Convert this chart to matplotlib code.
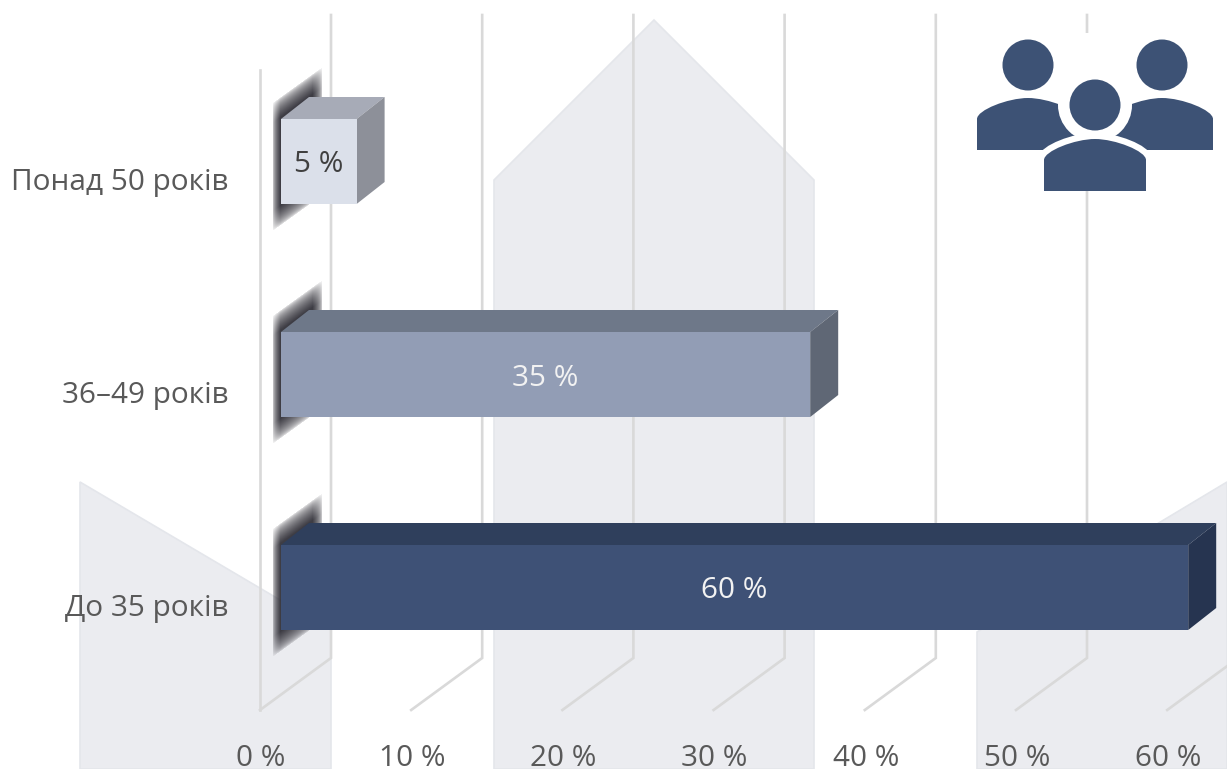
import numpy as np
import matplotlib
matplotlib.use('Agg')
import matplotlib.pyplot as plt
from matplotlib.patches import Polygon, Circle, PathPatch, Rectangle
from matplotlib.path import Path

plt.rcParams['font.family'] = ['Open Sans', 'DejaVu Sans']

# data
categories = ['До 35 років', '36–49 років', 'Понад 50 років']
values = [60, 35, 5]
value_labels = ['60 %', '35 %', '5 %']
axis_ticks = [0, 10, 20, 30, 40, 50, 60]
axis_labels = ['0 %', '10 %', '20 %', '30 %', '40 %', '50 %', '60 %']

# colours per bar: front, top, side, label
front_colors = ['#3e5176', '#929db5', '#dbe0ea']
top_colors = ['#2f3f5c', '#6e7889', '#a7abb7']
side_colors = ['#263450', '#5f6775', '#8d9099']
text_colors = ['#f2f2f2', '#f2f2f2', '#404040']

W, H = 1227, 769
PX_X = 15.12   # pixels for one percent
PX_Y = 213.0   # pixels between the bars
X0 = 281.0     # pixel of 0 % on the bar front
Y0 = 587.5     # pixel of the first bar centre
BAR_H = 85 / PX_Y
DX = 28 / PX_X  # depth of the 3d bars
DY = 22 / PX_Y
FONT = 21.4

fig = plt.figure(figsize=(W / 100, H / 100), dpi=100, facecolor='white')

# pale shapes behind the chart, in pixels
bg = fig.add_axes([0, 0, 1, 1], zorder=0)
bg.set_xlim(0, W)
bg.set_ylim(H, 0)
bg.axis('off')
shapes = [
    [(80, 482), (331, 630), (331, 769), (80, 769)],
    [(494, 180), (654, 20), (814, 180), (814, 769), (494, 769)],
    [(977, 632), (1227, 482), (1227, 769), (977, 769)],
]
for s in shapes:
    bg.add_patch(Polygon(s, closed=True, facecolor='#ebecf0', edgecolor='#e4e6eb', lw=1.2))

# chart
ax = fig.add_axes([0, 0, 1, 1], zorder=1)
ax.patch.set_alpha(0)
ax.axis('off')


def xp(px):
    return (px - X0) / PX_X


def yp(py):
    return (Y0 - py) / PX_Y


# grid, it has a foot going to the front
foot = 21 / PX_X
back = 50 / PX_X
for t in axis_ticks:
    ax.plot([t - foot, t + back, t + back],
            [yp(710), yp(658), yp(15)], color='#d9d9d9', lw=1.9, zorder=1,
            solid_joinstyle='miter')
ax.plot([-foot, -foot], [yp(710), yp(70)], color='#d9d9d9', lw=1.9, zorder=1)

# blurred shadow on the wall behind each bar
sx, sy = np.meshgrid(np.arange(262, 330), np.arange(0, 200))
mid = 100  # row of the bar centre
for i in range(len(values)):
    up = mid - 52 - (sx - 277) * 0.72
    low = mid + 56 - (sx - 277) * 0.72
    a = np.clip((sy - up) / 20 + 0.5, 0, 1) * np.clip((low - sy) / 20 + 0.5, 0, 1)
    a = a * np.clip((sx - 272) / 8, 0, 1) * np.clip((322 - sx) / 10, 0, 1)
    a = np.sqrt(a)
    rgba = np.zeros(a.shape + (4,))
    rgba[..., :3] = np.array([0x33, 0x32, 0x3a]) / 255
    rgba[..., 3] = a * 0.95
    ax.imshow(rgba, extent=[xp(262), xp(330), i + yp(Y0 + mid), i + yp(Y0 - mid)],
              origin='upper', aspect='auto', zorder=2, interpolation='bilinear')

# bars
y_pos = np.arange(len(values))
ax.barh(y_pos, values, height=BAR_H, color=front_colors, zorder=4)
for i, v in enumerate(values):
    top = i + BAR_H / 2
    bottom = i - BAR_H / 2
    ax.add_patch(Polygon([(0, top), (DX, top + DY), (v + DX, top + DY), (v, top)],
                         closed=True, facecolor=top_colors[i], edgecolor='none', zorder=3))
    ax.add_patch(Polygon([(v, top), (v + DX, top + DY), (v + DX, bottom + DY), (v, bottom)],
                         closed=True, facecolor=side_colors[i], edgecolor='none', zorder=3))
    ax.text(v / 2, i - 3.5 / PX_Y, value_labels[i], color=text_colors[i], fontsize=FONT,
            ha='center', va='center', zorder=5)
    ax.text(xp(229), i - 21 / PX_Y, categories[i], color='#595959', fontsize=FONT,
            ha='right', va='center', zorder=5)

for t, lab in zip(axis_ticks, axis_labels):
    ax.text(t - foot + 1 / PX_X, yp(766), lab, color='#595959', fontsize=FONT,
            ha='center', va='baseline', zorder=5, clip_on=False)

ax.set_xlim(-X0 / PX_X, (W - X0) / PX_X)
ax.set_ylim((Y0 - H) / PX_Y, Y0 / PX_Y)

# people icon, in pixels
ic = fig.add_axes([0, 0, 1, 1], zorder=2)
ic.patch.set_alpha(0)
ic.set_xlim(0, W)
ic.set_ylim(H, 0)
ic.axis('off')
navy = '#3d5275'
plate = Rectangle((977, 33), 236, 158, facecolor='white', edgecolor='none')
ic.add_patch(plate)


def body(cx, top, bottom):
    # shoulders with a flat base, 102 px wide
    verts = [(cx - 51, bottom), (cx - 51, top + 21),
             (cx - 51, top + 12), (cx - 20, top), (cx, top),
             (cx + 20, top), (cx + 51, top + 12), (cx + 51, top + 21),
             (cx + 51, bottom), (cx - 51, bottom)]
    codes = [Path.MOVETO, Path.LINETO, Path.CURVE4, Path.CURVE4, Path.CURVE4,
             Path.CURVE4, Path.CURVE4, Path.CURVE4, Path.LINETO, Path.CLOSEPOLY]
    return Path(verts, codes)


for cx in (1028, 1162):
    ic.add_patch(Circle((cx, 65), 25.5, facecolor=navy, edgecolor='none'))
    ic.add_patch(PathPatch(body(cx, 98, 150), facecolor=navy, edgecolor='none'))
ic.add_patch(Circle((1095, 105), 37, facecolor='white', edgecolor='none'))
halo = PathPatch(body(1095, 139, 191), facecolor='white', edgecolor='white', lw=9)
ic.add_patch(halo)
halo.set_clip_path(plate)
ic.add_patch(Circle((1095, 105), 25.5, facecolor=navy, edgecolor='none'))
ic.add_patch(PathPatch(body(1095, 139, 191), facecolor=navy, edgecolor='none'))

fig.savefig('out.png', dpi=100, facecolor='white')
